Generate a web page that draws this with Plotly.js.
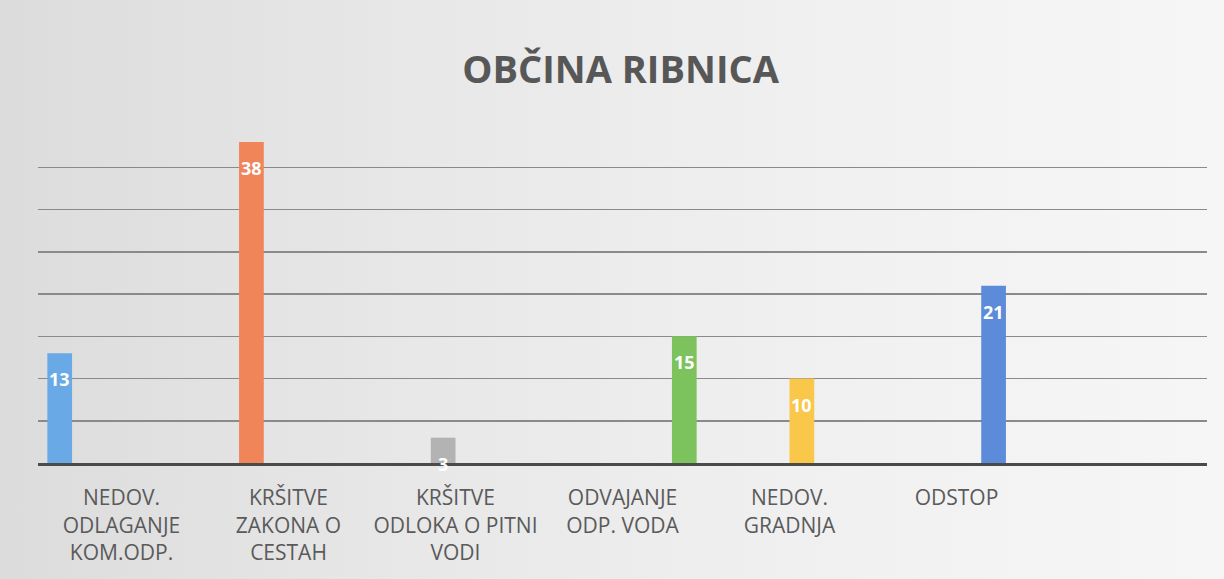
<!DOCTYPE html>
<html>
<head>
<meta charset="utf-8">
<script src="https://cdn.plot.ly/plotly-3.0.1.min.js"></script>
<style>
  html, body { margin: 0; padding: 0; }
  body { width: 1224px; height: 579px; background: linear-gradient(90deg, #dcdcdc 0%, #e8e8e8 35%, #f1f1f1 70%, #f6f6f6 100%); }
  #chart { width: 1224px; height: 579px; }
</style>
</head>
<body>
<div id="chart"></div>
<script>
// Categories (x axis tick labels)
const categories = [
  'NEDOV.<br>ODLAGANJE<br>KOM.ODP.',
  'KRŠITVE<br>ZAKONA O<br>CESTAH',
  'KRŠITVE<br>ODLOKA O PITNI<br>VODI',
  'ODVAJANJE<br>ODP. VODA',
  'NEDOV.<br>GRADNJA',
  'ODSTOP'
];

// Series (Excel-style clustered: one series per category)
const series1 = [13, null, null, null, null, null];
const series2 = [null, 38, null, null, null, null];
const series3 = [null, null, 3, null, null, null];
const series4 = [null, null, null, null, 10, null];
const series5 = [null, null, null, null, null, 21];
const series6 = [null, null, null, 15, null, null];

const allSeries = [series1, series2, series3, series4, series5, series6];
const colors = ['#68a9e6', '#f08559', '#b3b3b3', '#f9c74a', '#5b8bd9', '#7cc35d'];

const BARGAP = 0.112;
const nSeries = allSeries.length;
const barW = (1 - BARGAP) / nSeries;

const traces = allSeries.map((vals, i) => ({
  type: 'bar',
  x: categories,
  y: vals,
  marker: { color: colors[i] },
  hoverinfo: 'skip',
  showlegend: false
}));

const annotations = [];
allSeries.forEach((vals, i) => {
  const shift = -(1 - BARGAP) / 2 + barW * (i + 0.5);
  vals.forEach((v, j) => {
    if (v === null) return;
    annotations.push({
      x: j + shift, y: v, xref: 'x', yref: 'y',
      text: String(v), showarrow: false,
      yanchor: 'middle', yshift: -26,
      font: { family: 'Open Sans, sans-serif', size: 18, color: '#ffffff', weight: 'bold' }
    });
  });
});

const layout = {
  width: 1224, height: 579,
  paper_bgcolor: 'rgba(0,0,0,0)',
  plot_bgcolor: 'rgba(0,0,0,0)',
  margin: { l: 38, r: 17, t: 126, b: 116 },
  barmode: 'group',
  bargap: BARGAP,
  bargroupgap: 0,
  title: {
    text: '<b>OBČINA RIBNICA</b>',
    x: 0.507, xref: 'container', xanchor: 'center',
    y: 1 - 70 / 579, yref: 'container', yanchor: 'middle',
    font: { family: 'Open Sans, sans-serif', size: 38, color: '#575757' }
  },
  xaxis: {
    type: 'category',
    range: [-0.5, 6.5],
    showgrid: false,
    showline: true, linecolor: '#4a4a4a', linewidth: 3,
    ticks: '',
    ticklabelstandoff: 14,
    tickfont: { family: 'Open Sans, sans-serif', size: 21, color: '#5a5a5a' },
    fixedrange: true
  },
  yaxis: {
    range: [0, 39.9],
    dtick: 5,
    showticklabels: false,
    showgrid: true, gridcolor: '#8a8a8a', gridwidth: 1.5,
    zeroline: false,
    showline: false,
    fixedrange: true
  },
  annotations: annotations
};

Plotly.newPlot('chart', traces, layout, { displayModeBar: false, staticPlot: true });
</script>
</body>
</html>
